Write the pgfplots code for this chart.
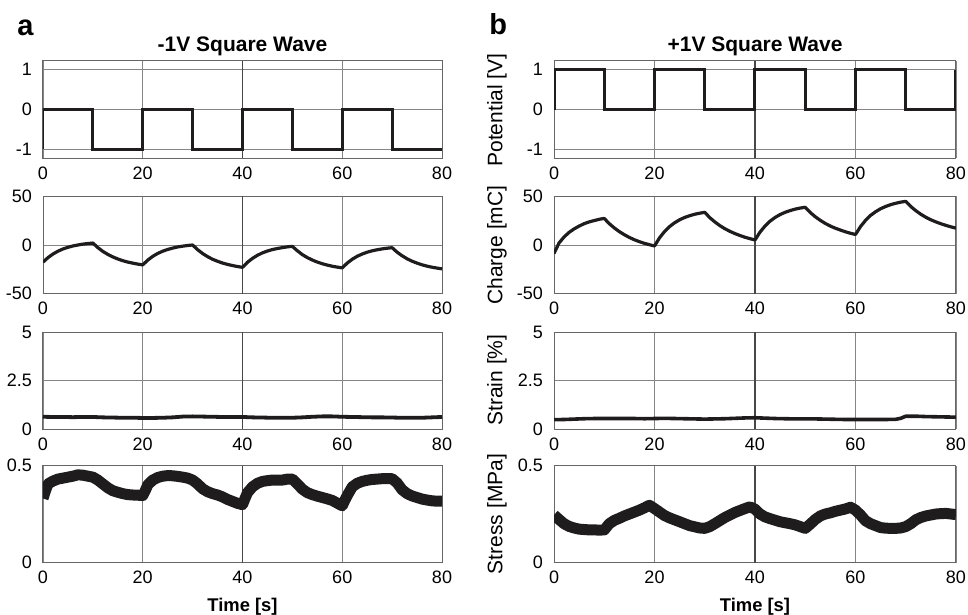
\documentclass[border=0pt]{standalone}
\usepackage{fontspec}
\setmainfont{Liberation Sans}
\usepackage{pgfplots}
\pgfplotsset{compat=1.18}

\definecolor{trace}{RGB}{30,28,29}
\pgfplotsset{
  panel/.style={
    scale only axis, height=48.5pt,
    anchor=north west,
    xmin=0, xmax=80, xtick={0,20,40,60,80},
    extra x ticks={40}, extra x tick labels={},
    extra x tick style={grid=major, major grid style={black!72, line width=0.7pt}},
    grid=major,
    major grid style={black!48, line width=0.45pt},
    axis line style={black!60, line width=0.5pt},
    major tick length=0pt,
    tick label style={font=\fontsize{9}{10}\selectfont},
    /pgf/number format/assume math mode=true,
    yticklabel style={xshift=-2pt},
    xticklabel style={yshift=-0.8pt},
    scaled y ticks=false,
  },
  leftcol/.style={panel, width=199.5pt},
  rightcol/.style={panel, width=201pt},
  pot/.style={ymin=-1.22, ymax=1.22, ytick={-1,0,1}},
  chg/.style={ymin=-50, ymax=50, ytick={-50,0,50}},
  strn/.style={ymin=0, ymax=5, ytick={0,2.5,5}},
  strs/.style={ymin=0, ymax=0.5, ytick={0,0.5}, yticklabels={0,0.5}},
}

\begin{document}
\begin{tikzpicture}
\path[use as bounding box] (0,0) rectangle (484pt,-307.5pt);

% ---------------- Column a ----------------
\begin{axis}[leftcol, pot, at={(21.5pt,-30.5pt)}]
\addplot[trace, line width=1.5pt] coordinates {(0,-1)(0,0)(10,0)(10,-1)(20,-1)(20,0)(30,0)(30,-1)(40,-1)(40,0)(50,0)(50,-1)(60,-1)(60,0)(70,0)(70,-1)(80,-1)};
\end{axis}

\begin{axis}[leftcol, chg, at={(21.5pt,-98.25pt)}]
\addplot[trace, line width=1.6pt, line join=round] coordinates {
(0,-17.7)(1,-13.0)(2,-9.3)(3,-6.4)(4,-4.1)(5,-2.4)(6,-1.0)(7,0.0)(8,0.9)(9,1.5)(10,2.0)
(11,-2.7)(12,-6.6)(13,-9.7)(14,-12.3)(15,-14.4)(16,-16.2)(17,-17.6)(18,-18.7)(19,-19.7)(20,-20.5)
(21,-15.6)(22,-11.7)(23,-8.7)(24,-6.4)(25,-4.6)(26,-3.2)(27,-2.0)(28,-1.2)(29,-0.5)(30,0)
(31,-4.8)(32,-8.8)(33,-12.0)(34,-14.7)(35,-16.8)(36,-18.6)(37,-20.0)(38,-21.2)(39,-22.2)(40,-23.0)
(41,-17.8)(42,-13.8)(43,-10.6)(44,-8.1)(45,-6.2)(46,-4.7)(47,-3.6)(48,-2.7)(49,-1.9)(50,-1.4)
(51,-6.0)(52,-9.9)(53,-13.0)(54,-15.5)(55,-17.6)(56,-19.3)(57,-20.7)(58,-21.9)(59,-22.8)(60,-23.6)
(61,-18.6)(62,-14.7)(63,-11.6)(64,-9.3)(65,-7.4)(66,-6.0)(67,-4.9)(68,-4.0)(69,-3.3)(70,-2.8)
(71,-7.4)(72,-11.1)(73,-14.2)(74,-16.7)(75,-18.7)(76,-20.4)(77,-21.8)(78,-22.9)(79,-23.8)(80,-24.6)};
\end{axis}

\begin{axis}[leftcol, strn, at={(21.5pt,-166pt)}]
\addplot[trace, line width=1.9pt, line join=round] coordinates {
(0,0.63)(2,0.62)(4,0.62)(6,0.61)(8,0.62)(10,0.62)(12,0.60)(14,0.59)(16,0.58)(18,0.58)(20,0.57)
(22,0.57)(24,0.58)(26,0.60)(28,0.64)(30,0.65)(32,0.64)(34,0.63)(36,0.62)(38,0.62)(40,0.62)
(42,0.60)(44,0.59)(46,0.58)(48,0.58)(50,0.58)(52,0.60)(54,0.63)(56,0.65)(58,0.65)(60,0.63)
(62,0.62)(64,0.61)(66,0.60)(68,0.60)(70,0.59)(72,0.58)(74,0.58)(76,0.58)(78,0.60)(80,0.62)};
\end{axis}

\begin{axis}[leftcol, strs, at={(21.5pt,-232.75pt)}]
\addplot[trace, line width=5.5pt, line join=round] coordinates {
(0,0.33)(0.5,0.37)(1,0.405)(2,0.42)(3,0.43)(4,0.435)(5,0.44)(6,0.445)(7,0.452)(8,0.45)(9,0.445)(10,0.44)
(11,0.425)(12,0.405)(13,0.385)(14,0.37)(15,0.362)(16,0.355)(17,0.35)(18,0.348)(19,0.347)(20,0.345)
(20.5,0.37)(21,0.40)(22,0.425)(23,0.438)(24,0.445)(25,0.448)(26,0.447)(27,0.444)(28,0.44)(29,0.435)(30,0.425)
(31,0.405)(32,0.38)(33,0.365)(34,0.355)(35,0.348)(36,0.338)(37,0.325)(38,0.315)(39,0.305)(40,0.298)
(40.5,0.33)(41,0.36)(42,0.39)(43,0.408)(44,0.418)(45,0.422)(46,0.425)(47,0.425)(48,0.425)(49,0.43)(50,0.43)
(51,0.405)(52,0.378)(53,0.36)(54,0.35)(55,0.342)(56,0.335)(57,0.328)(58,0.32)(59,0.306)(60,0.292)
(60.5,0.32)(61,0.345)(62,0.39)(63,0.408)(64,0.418)(65,0.424)(66,0.428)(67,0.43)(68,0.432)(69,0.433)(70,0.432)
(71,0.41)(72,0.375)(73,0.355)(74,0.343)(75,0.335)(76,0.327)(77,0.322)(78,0.318)(79,0.316)(80,0.316)};
\end{axis}

% ---------------- Column b ----------------
\begin{axis}[rightcol, pot, at={(277pt,-30.5pt)}]
\addplot[trace, line width=1.5pt] coordinates {(0,0)(0,1)(10,1)(10,0)(20,0)(20,1)(30,1)(30,0)(40,0)(40,1)(50,1)(50,0)(60,0)(60,1)(70,1)(70,0)(80,0)(80,1)};
\end{axis}

\begin{axis}[rightcol, chg, at={(277pt,-98.25pt)}]
\addplot[trace, line width=1.6pt, line join=round] coordinates {
(0,-8.7)(1,2.1)(2,8.3)(3,13.0)(4,16.6)(5,19.5)(6,22.0)(7,23.8)(8,25.2)(9,26.5)(10,27.4)
(11,22.0)(12,17.6)(13,13.8)(14,10.6)(15,7.8)(16,5.4)(17,3.4)(18,1.7)(19,0.3)(20,-1.0)
(21,7.4)(22,13.9)(23,19.0)(24,22.9)(25,26.0)(26,28.4)(27,30.2)(28,31.7)(29,32.8)(30,33.7)
(31,28.2)(32,23.8)(33,20.0)(34,16.8)(35,14.1)(36,11.8)(37,9.8)(38,8.0)(39,6.5)(40,5.2)
(41,13.3)(42,19.6)(43,24.6)(44,28.4)(45,31.4)(46,33.7)(47,35.5)(48,37.0)(49,38.1)(50,38.9)
(51,33.5)(52,29.1)(53,25.4)(54,22.2)(55,19.5)(56,17.3)(57,15.4)(58,13.6)(59,12.1)(60,10.8)
(61,19.0)(62,25.4)(63,30.5)(64,34.3)(65,37.4)(66,39.7)(67,41.6)(68,43.0)(69,44.2)(70,45.0)
(71,39.7)(72,35.4)(73,31.7)(74,28.6)(75,26.0)(76,23.8)(77,21.9)(78,20.2)(79,18.7)(80,17.4)};
\end{axis}

\begin{axis}[rightcol, strn, at={(277pt,-166pt)}]
\addplot[trace, line width=1.8pt, line join=round] coordinates {
(0,0.48)(2,0.49)(4,0.51)(6,0.53)(8,0.54)(10,0.54)(12,0.54)(14,0.54)(16,0.54)(18,0.53)(20,0.54)
(22,0.55)(24,0.54)(26,0.53)(28,0.52)(30,0.51)(32,0.52)(34,0.53)(36,0.55)(38,0.57)(40,0.58)
(42,0.56)(44,0.54)(46,0.53)(48,0.52)(50,0.52)(52,0.52)(54,0.51)(56,0.50)(58,0.49)(60,0.49)
(62,0.49)(64,0.49)(66,0.49)(68,0.50)(69,0.55)(70,0.66)(72,0.66)(74,0.64)(76,0.63)(78,0.62)(80,0.61)};
\end{axis}

\begin{axis}[rightcol, strs, at={(277pt,-232.75pt)}]
\addplot[trace, line width=5.5pt, line join=round] coordinates {
(0,0.245)(1,0.222)(2,0.2)(3,0.186)(4,0.178)(5,0.172)(6,0.17)(7,0.168)(8,0.168)(9,0.167)(10,0.168)
(11,0.2)(12,0.217)(13,0.228)(14,0.24)(15,0.25)(16,0.26)(17,0.27)(18,0.282)(19,0.295)(20,0.278)
(21,0.26)(22,0.242)(23,0.23)(24,0.22)(25,0.21)(26,0.2)(27,0.19)(28,0.184)(29,0.178)(30,0.176)
(31,0.185)(32,0.2)(33,0.216)(34,0.232)(35,0.245)(36,0.258)(37,0.268)(38,0.278)(39,0.287)(40,0.275)
(41,0.25)(42,0.235)(43,0.226)(44,0.218)(45,0.21)(46,0.205)(47,0.2)(48,0.194)(49,0.185)(50,0.176)
(51,0.198)(52,0.222)(53,0.24)(54,0.25)(55,0.256)(56,0.264)(57,0.27)(58,0.276)(59,0.285)(60,0.27)
(61,0.245)(62,0.215)(63,0.2)(64,0.19)(65,0.18)(66,0.177)(67,0.176)(68,0.176)(69,0.178)(70,0.185)
(71,0.2)(72,0.22)(73,0.232)(74,0.24)(75,0.245)(76,0.25)(77,0.252)(78,0.253)(79,0.25)(80,0.247)};
\end{axis}

% ---------------- Texts ----------------
\node[anchor=base west, inner sep=0, font=\bfseries\fontsize{14.5}{16}\selectfont] at (8.5pt,-18pt) {a};
\node[anchor=base west, inner sep=0, font=\bfseries\fontsize{14.5}{16}\selectfont] at (244.5pt,-17.5pt) {b};
\node[anchor=base, inner sep=0, font=\bfseries\fontsize{10.5}{12}\selectfont] at (121.25pt,-25.8pt) {-1V Square Wave};
\node[anchor=base, inner sep=0, font=\bfseries\fontsize{10.5}{12}\selectfont] at (377.5pt,-25.8pt) {+1V Square Wave};
\node[anchor=base, inner sep=0, font=\bfseries\fontsize{9.2}{11}\selectfont] at (121.25pt,-305.8pt) {Time [s]};
\node[anchor=base, inner sep=0, font=\bfseries\fontsize{9.2}{11}\selectfont] at (377.5pt,-305.8pt) {Time [s]};
\node[rotate=90, inner sep=0, font=\fontsize{10.5}{12}\selectfont] at (248.5pt,-55pt) {Potential [V]};
\node[rotate=90, inner sep=0, font=\fontsize{10.5}{12}\selectfont] at (248.5pt,-122.5pt) {Charge [mC]};
\node[rotate=90, inner sep=0, font=\fontsize{10.5}{12}\selectfont] at (248.5pt,-190pt) {Strain [\%]};
\node[rotate=90, inner sep=0, font=\fontsize{10.5}{12}\selectfont] at (248.5pt,-257pt) {Stress [MPa]};
\end{tikzpicture}
\end{document}
